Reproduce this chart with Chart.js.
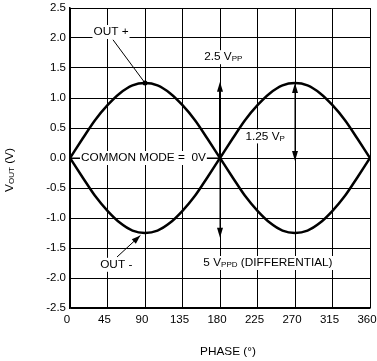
<!DOCTYPE html>
<html>
<head>
<meta charset="utf-8">
<script src="https://cdn.jsdelivr.net/npm/chart.js@4"></script>
<style>
html,body{margin:0;padding:0;background:#fff;}
#wrap{width:377px;height:361px;position:relative;}
</style>
</head>
<body>
<div id="wrap"><canvas id="c" width="377" height="361"></canvas></div>
<script>
const phase = [0,15,30,45,60,75,90,105,120,135,150,165,180,195,210,225,240,255,270,285,300,315,330,345,360];
const outPlus = [0,0.32,0.63,0.88,1.08,1.21,1.25,1.21,1.08,0.88,0.63,0.32,0,-0.32,-0.63,-0.88,-1.08,-1.21,-1.25,-1.21,-1.08,-0.88,-0.63,-0.32,0];
const outMinus = [0,-0.32,-0.63,-0.88,-1.08,-1.21,-1.25,-1.21,-1.08,-0.88,-0.63,-0.32,0,0.32,0.63,0.88,1.08,1.21,1.25,1.21,1.08,0.88,0.63,0.32,0];
const xTicks = [0,45,90,135,180,225,270,315,360];
const yTicks = [-2.5,-2.0,-1.5,-1.0,-0.5,0.0,0.5,1.0,1.5,2.0,2.5];

const FONT = '"Liberation Sans", Arial, sans-serif';
const FS = '11.8px ';

function arrowHead(ctx, x, y, dir, w, l) {
  ctx.save();
  ctx.translate(x, y);
  ctx.rotate(dir);
  ctx.beginPath();
  ctx.moveTo(0, 0);
  ctx.lineTo(-l, -w / 2);
  ctx.lineTo(-l, w / 2);
  ctx.closePath();
  ctx.fill();
  ctx.restore();
}

function richText(ctx, parts, x, y, bg) {
  let w = 0;
  const widths = parts.map(p => {
    ctx.font = (p[1] ? '8px ' : FS) + FONT;
    const m = ctx.measureText(p[0]).width;
    w += m;
    return m;
  });
  if (bg) {
    ctx.fillStyle = '#fff';
    ctx.fillRect(x - 1, y - 7, w + 2, 14);
  }
  ctx.fillStyle = '#000';
  ctx.textBaseline = 'middle';
  ctx.textAlign = 'left';
  let cx = x;
  parts.forEach((p, i) => {
    ctx.font = (p[1] ? '8px ' : FS) + FONT;
    ctx.fillText(p[0], cx, p[1] ? y + 2 : y);
    cx += widths[i];
  });
  return w;
}

const annot = {
  id: 'annot',
  afterDatasetsDraw(chart) {
    const ctx = chart.ctx;
    const xs = chart.scales.x, ys = chart.scales.y;
    const X = v => xs.getPixelForValue(v), Y = v => ys.getPixelForValue(v);
    ctx.save();
    ctx.strokeStyle = '#000';
    ctx.fillStyle = '#000';

    ctx.lineWidth = 1;
    ctx.beginPath();
    ctx.moveTo(X(0), Y(0)); ctx.lineTo(X(180), Y(0)); ctx.stroke();
    richText(ctx, [['COMMON MODE =  0V', false]], X(13.2), Y(0), true);

    ctx.lineWidth = 2;
    ctx.beginPath();
    ctx.moveTo(X(180), Y(0)); ctx.lineTo(X(180), Y(1.2)); ctx.stroke();
    ctx.fillStyle = '#000';
    arrowHead(ctx, X(180), Y(1.27), -Math.PI / 2, 6, 10);
    ctx.lineWidth = 1;
    ctx.beginPath();
    ctx.moveTo(X(180), Y(0)); ctx.lineTo(X(180), Y(-1.25)); ctx.stroke();
    arrowHead(ctx, X(180), Y(-1.33), Math.PI / 2, 6, 10);

    ctx.beginPath();
    ctx.moveTo(X(270), Y(1.2)); ctx.lineTo(X(270), Y(0)); ctx.stroke();
    arrowHead(ctx, X(270), Y(1.25), -Math.PI / 2, 6, 10);
    arrowHead(ctx, X(270), Y(-0.05), Math.PI / 2, 6, 10);

    ctx.lineWidth = 1;
    ctx.beginPath();
    ctx.moveTo(X(51.6), Y(1.97)); ctx.lineTo(X(90), Y(1.25)); ctx.stroke();
    ctx.beginPath();
    ctx.arc(X(90), Y(1.25), 2.5, 0, Math.PI * 2); ctx.fill();

    const ax0 = X(56.4), ay0 = Y(-1.65), ax1 = X(84.5), ay1 = Y(-1.29);
    ctx.beginPath();
    ctx.moveTo(ax0, ay0); ctx.lineTo(ax1, ay1); ctx.stroke();
    arrowHead(ctx, ax1, ay1, Math.atan2(ay1 - ay0, ax1 - ax0), 6, 9);

    ctx.textBaseline = 'middle';
    let w;
    ctx.font = FS + FONT;
    w = ctx.measureText('OUT +').width;
    richText(ctx, [['OUT +', false]], X(51.6) - w / 2 - 2, Y(2.1), true);
    w = ctx.measureText('OUT -').width;
    richText(ctx, [['OUT -', false]], X(55.5) - w / 2, Y(-1.78), true);
    richText(ctx, [['2.5 V', false], ['PP', true]], X(161), Y(1.68), true);
    richText(ctx, [['1.25 V', false], ['P', true]], X(210.5), Y(0.36), true);
    richText(ctx, [['5 V', false], ['PPD', true], [' (DIFFERENTIAL)', false]], X(160), Y(-1.75), true);

    ctx.restore();
  },
  afterDraw(chart) {
    const ctx = chart.ctx;
    ctx.save();
    ctx.fillStyle = '#000';
    ctx.textBaseline = 'middle';
    ctx.textAlign = 'center';
    ctx.font = FS + FONT;
    ctx.fillText('PHASE (°)', 228, 352);
    ctx.translate(10, 170);
    ctx.rotate(-Math.PI / 2);
    ctx.font = FS + FONT;
    const w1 = ctx.measureText('V').width;
    ctx.font = '8px ' + FONT;
    const w2 = ctx.measureText('OUT').width;
    ctx.font = FS + FONT;
    const w3 = ctx.measureText(' (V)').width;
    const tot = w1 + w2 + w3;
    ctx.textAlign = 'left';
    let cx = -tot / 2;
    ctx.fillText('V', cx, 0); cx += w1;
    ctx.font = '8px ' + FONT;
    ctx.fillText('OUT', cx, 2); cx += w2;
    ctx.font = FS + FONT;
    ctx.fillText(' (V)', cx, 0);
    ctx.restore();
  }
};

new Chart(document.getElementById('c'), {
  type: 'line',
  data: {
    datasets: [
      { label: 'OUT +', data: phase.map((p, i) => ({ x: p, y: outPlus[i] })), borderColor: '#000', borderWidth: 2.5, pointRadius: 0, cubicInterpolationMode: 'monotone', fill: false },
      { label: 'OUT -', data: phase.map((p, i) => ({ x: p, y: outMinus[i] })), borderColor: '#000', borderWidth: 2.5, pointRadius: 0, cubicInterpolationMode: 'monotone', fill: false }
    ]
  },
  options: {
    responsive: false,
    animation: false,
    events: [],
    layout: { padding: { top: 8, right: 7, left: 0, bottom: 0 } },
    plugins: { legend: { display: false }, tooltip: { enabled: false } },
    scales: {
      x: {
        type: 'linear', min: 0, max: 360,
        afterBuildTicks: s => { s.ticks = xTicks.map(v => ({ value: v })); },
        afterFit: s => { s.height = 53; s.paddingLeft = 0; s.paddingRight = 0; },
        grid: { color: '#000', lineWidth: 1, drawTicks: false },
        border: { color: '#000', width: 1.5 },
        ticks: { color: '#000', font: { family: FONT, size: 11.5 }, padding: 5, labelOffset: -3, maxRotation: 0, autoSkip: false }
      },
      y: {
        type: 'linear', min: -2.5, max: 2.5,
        afterBuildTicks: s => { s.ticks = yTicks.map(v => ({ value: v })); },
        afterFit: s => { s.width = 70; s.paddingTop = 0; s.paddingBottom = 0; },
        grid: { color: '#000', lineWidth: 1, drawTicks: false },
        border: { color: '#000', width: 1.5 },
        ticks: { color: '#000', font: { family: FONT, size: 11.5 }, padding: 4, callback: v => Number(v).toFixed(1), autoSkip: false }
      }
    }
  },
  plugins: [annot]
});
</script>
</body>
</html>
